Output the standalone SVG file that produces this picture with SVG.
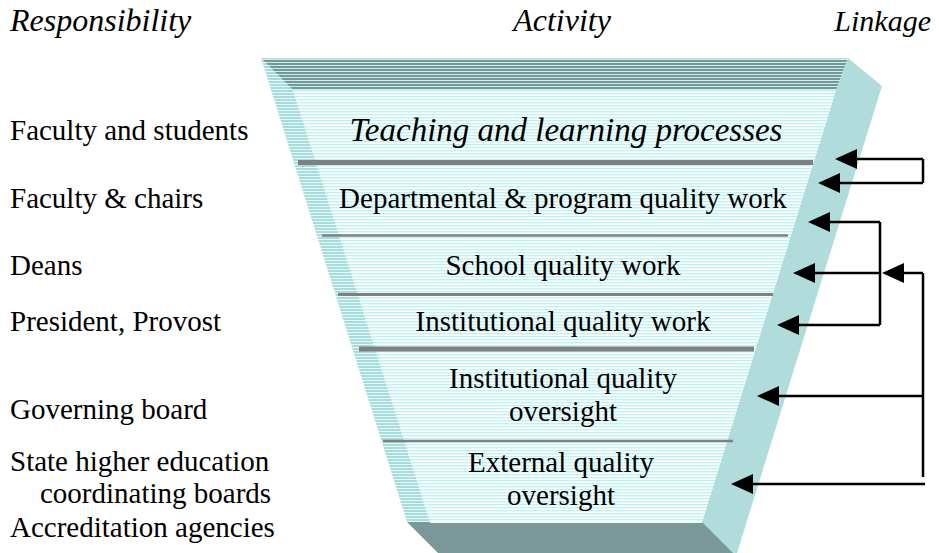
<svg xmlns="http://www.w3.org/2000/svg" width="939" height="553" viewBox="0 0 939 553">
  <defs>
    <pattern id="frontStripes" width="8" height="3" patternUnits="userSpaceOnUse">
      <rect width="8" height="3" fill="#ffffff"/>
      <rect y="0" width="8" height="1.4" fill="#bff2f2"/>
    </pattern>
    <pattern id="sideStripes" width="8" height="3" patternUnits="userSpaceOnUse">
      <rect width="8" height="3" fill="#e6f8f8"/>
      <rect y="0" width="8" height="2" fill="#a6dcdc"/>
    </pattern>
    <pattern id="topStripes" width="8" height="3" patternUnits="userSpaceOnUse">
      <rect width="8" height="3" fill="#cfeaea"/>
      <rect y="0" width="8" height="2" fill="#739898"/>
    </pattern>
    <marker id="arrow" markerUnits="userSpaceOnUse" markerWidth="22" markerHeight="20" refX="0" refY="10" orient="auto">
      <path d="M0,0 L22,10 L0,20 z" fill="#000"/>
    </marker>
  </defs>

  <rect width="939" height="553" fill="#ffffff"/>

  <!-- column headings -->
  <g id="headings">
    <text x="10" y="31" font-family="Liberation Serif" font-style="italic" font-size="32">Responsibility</text>
    <text x="562" y="31" font-family="Liberation Serif" font-style="italic" font-size="32" text-anchor="middle">Activity</text>
    <text x="931" y="31" font-family="Liberation Serif" font-style="italic" font-size="30" text-anchor="end">Linkage</text>
  </g>

  <!-- the funnel: top, left, right, bottom and front faces -->
  <g id="funnel">
    <polygon id="face-right" points="848,58 882,86 733,566 702,522 836,90" fill="#b0dcdc"/>
    <polygon id="face-left" points="261,58 293,90 430,522 407,522" fill="url(#sideStripes)"/>
    <polygon id="face-front" points="293,90 836,90 702,522 430,522" fill="url(#frontStripes)"/>
    <polygon id="face-top" points="261,58 848,58 836,90 293,90" fill="url(#topStripes)"/>
    <line x1="261" y1="58.5" x2="848" y2="58.5" stroke="#b8e0e0" stroke-width="1"/>
    <polygon id="face-bottom" points="407,522 702,522 740,560 445,560" fill="#7a9898"/>
    <line x1="430" y1="522.5" x2="702" y2="522.5" stroke="#e8f6f6" stroke-width="1"/>
  </g>

  <!-- tier separators -->
  <g id="separators" stroke="#808080">
    <line x1="298" y1="162.5" x2="813" y2="162.5" stroke-width="5"/>
    <line x1="322" y1="235.5" x2="788" y2="235.5" stroke-width="2.5"/>
    <line x1="338" y1="294.5" x2="773" y2="294.5" stroke-width="3"/>
    <line x1="359" y1="349" x2="754" y2="349" stroke-width="5"/>
    <line x1="383" y1="441" x2="733" y2="441" stroke-width="2.5"/>
  </g>

  <!-- activity tiers -->
  <g id="tier-teaching">
    <text x="566" y="141" font-family="Liberation Serif" font-style="italic" font-size="33" text-anchor="middle">Teaching and learning processes</text>
  </g>
  <g id="tier-departmental">
    <text x="563" y="208" font-family="Liberation Serif" font-size="29" text-anchor="middle">Departmental &amp; program quality work</text>
  </g>
  <g id="tier-school">
    <text x="563" y="275" font-family="Liberation Serif" font-size="29" text-anchor="middle">School quality work</text>
  </g>
  <g id="tier-institutional-work">
    <text x="563" y="331" font-family="Liberation Serif" font-size="29" text-anchor="middle">Institutional quality work</text>
  </g>
  <g id="tier-institutional-oversight">
    <text x="563" y="388" font-family="Liberation Serif" font-size="29" text-anchor="middle">Institutional quality</text>
    <text x="563" y="421" font-family="Liberation Serif" font-size="29" text-anchor="middle">oversight</text>
  </g>
  <g id="tier-external">
    <text x="561" y="472" font-family="Liberation Serif" font-size="29" text-anchor="middle">External quality</text>
    <text x="561" y="505" font-family="Liberation Serif" font-size="29" text-anchor="middle">oversight</text>
  </g>

  <!-- responsibility labels -->
  <g id="responsibility">
    <text x="10" y="140" font-family="Liberation Serif" font-size="29">Faculty and students</text>
    <text x="10" y="208" font-family="Liberation Serif" font-size="29">Faculty &amp; chairs</text>
    <text x="10" y="275" font-family="Liberation Serif" font-size="29">Deans</text>
    <text x="10" y="331" font-family="Liberation Serif" font-size="29">President, Provost</text>
    <text x="10" y="419" font-family="Liberation Serif" font-size="29">Governing board</text>
    <text x="10" y="471" font-family="Liberation Serif" font-size="29">State higher education</text>
    <text x="40" y="503" font-family="Liberation Serif" font-size="29">coordinating boards</text>
    <text x="10" y="537" font-family="Liberation Serif" font-size="29">Accreditation agencies</text>
  </g>

  <!-- linkage connectors -->
  <g id="connectors" fill="none" stroke="#000" stroke-width="2.5">
    <!-- faculty loop -->
    <path d="M923,159 V183"/>
    <line x1="923" y1="159" x2="857" y2="159" marker-end="url(#arrow)"/>
    <line x1="923" y1="183" x2="840" y2="183" marker-end="url(#arrow)"/>
    <!-- departmental / school / institutional loop -->
    <path d="M880,222 V325"/>
    <line x1="880" y1="222" x2="830" y2="222" marker-end="url(#arrow)"/>
    <line x1="880" y1="273" x2="815" y2="273" marker-end="url(#arrow)"/>
    <line x1="880" y1="325" x2="799" y2="325" marker-end="url(#arrow)"/>
    <!-- oversight loop -->
    <path d="M923,273 V477"/>
    <line x1="923" y1="273" x2="904" y2="273" marker-end="url(#arrow)"/>
    <line x1="923" y1="396" x2="779" y2="396" marker-end="url(#arrow)"/>
    <line x1="925" y1="484" x2="753" y2="484" marker-end="url(#arrow)"/>
  </g>
</svg>
